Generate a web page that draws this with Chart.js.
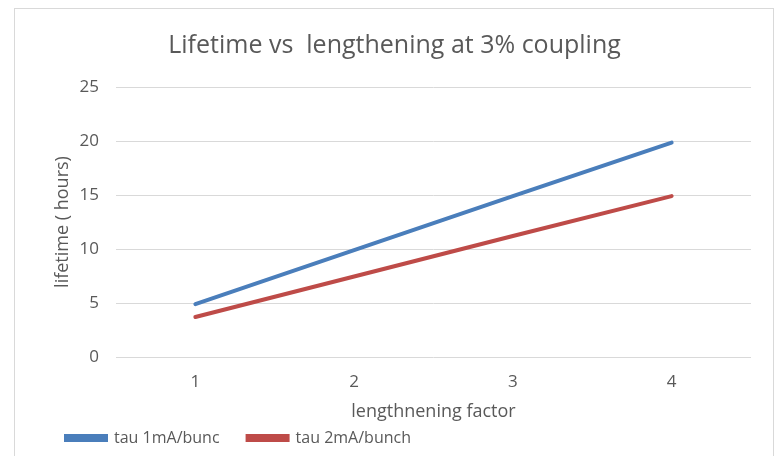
<!DOCTYPE html>
<html>
<head>
<meta charset="utf-8">
<script src="https://cdn.jsdelivr.net/npm/chart.js@4.4.0/dist/chart.umd.min.js"></script>
<style>
  html, body { margin: 0; padding: 0; background: #fff; overflow: hidden; }
  #frame {
    position: absolute; left: 14px; top: 8px;
    width: 758px; height: 460px;
    border: 1px solid #d9d9d9; background: #fff;
  }
  #chart { display: block; }
</style>
</head>
<body>
<div id="frame"><canvas id="chart" width="758" height="448"></canvas></div>
<script>
// facteur d'allongement et durée de vie (heures)
const categories = ['1', '2', '3', '4'];
const tau1mA = [4.9, 9.9, 14.9, 19.85];
const tau2mA = [3.7, 7.45, 11.2, 14.9];
const seriesNames = ['tau 1mA/bunc', 'tau 2mA/bunch'];

const textColor = '#595959';
const fontFamily = "'Open Sans', 'Liberation Sans', sans-serif";

const ctx = document.getElementById('chart').getContext('2d');
new Chart(ctx, {
    type: 'line',
    data: {
        labels: categories,
        datasets: [
            {
                label: seriesNames[0],
                data: tau1mA,
                borderColor: '#4a7ebb',
                backgroundColor: '#4a7ebb',
                borderWidth: 4,
                pointRadius: 0,
                borderCapStyle: 'round'
            },
            {
                label: seriesNames[1],
                data: tau2mA,
                borderColor: '#be4b48',
                backgroundColor: '#be4b48',
                borderWidth: 4,
                pointRadius: 0,
                borderCapStyle: 'round'
            }
        ]
    },
    options: {
        responsive: false,
        animation: false,
        layout: { padding: { left: 23, right: 22, top: 22, bottom: 1 } },
        plugins: {
            title: {
                display: true,
                text: 'Lifetime vs  lengthening at 3% coupling',
                color: textColor,
                font: { family: fontFamily, size: 25, weight: 'normal' },
                padding: { top: 0, bottom: 26 }
            },
            legend: {
                position: 'bottom',
                align: 'start',
                labels: {
                    color: textColor,
                    font: { family: fontFamily, size: 16 },
                    boxWidth: 40,
                    boxHeight: 4,
                    padding: 28
                }
            },
            tooltip: { enabled: false }
        },
        scales: {
            x: {
                offset: true,
                grid: { display: false, drawTicks: false },
                border: { display: false },
                ticks: { color: textColor, font: { family: fontFamily, size: 17 }, padding: 15 },
                title: {
                    display: true,
                    text: 'lengthnening factor',
                    color: textColor,
                    font: { family: fontFamily, size: 18 },
                    padding: { top: -6, bottom: -21 }
                }
            },
            y: {
                min: 0,
                max: 25,
                ticks: { stepSize: 5, color: textColor, font: { family: fontFamily, size: 17 }, padding: 17 },
                grid: { color: '#d9d9d9', lineWidth: 1, drawTicks: false },
                border: { display: false },
                title: {
                    display: true,
                    text: 'lifetime ( hours)',
                    color: textColor,
                    font: { family: fontFamily, size: 18 },
                    padding: { top: 14, bottom: 0 }
                },
                afterFit: scale => { scale.width = 78; }
            }
        }
    }
});
</script>
</body>
</html>
